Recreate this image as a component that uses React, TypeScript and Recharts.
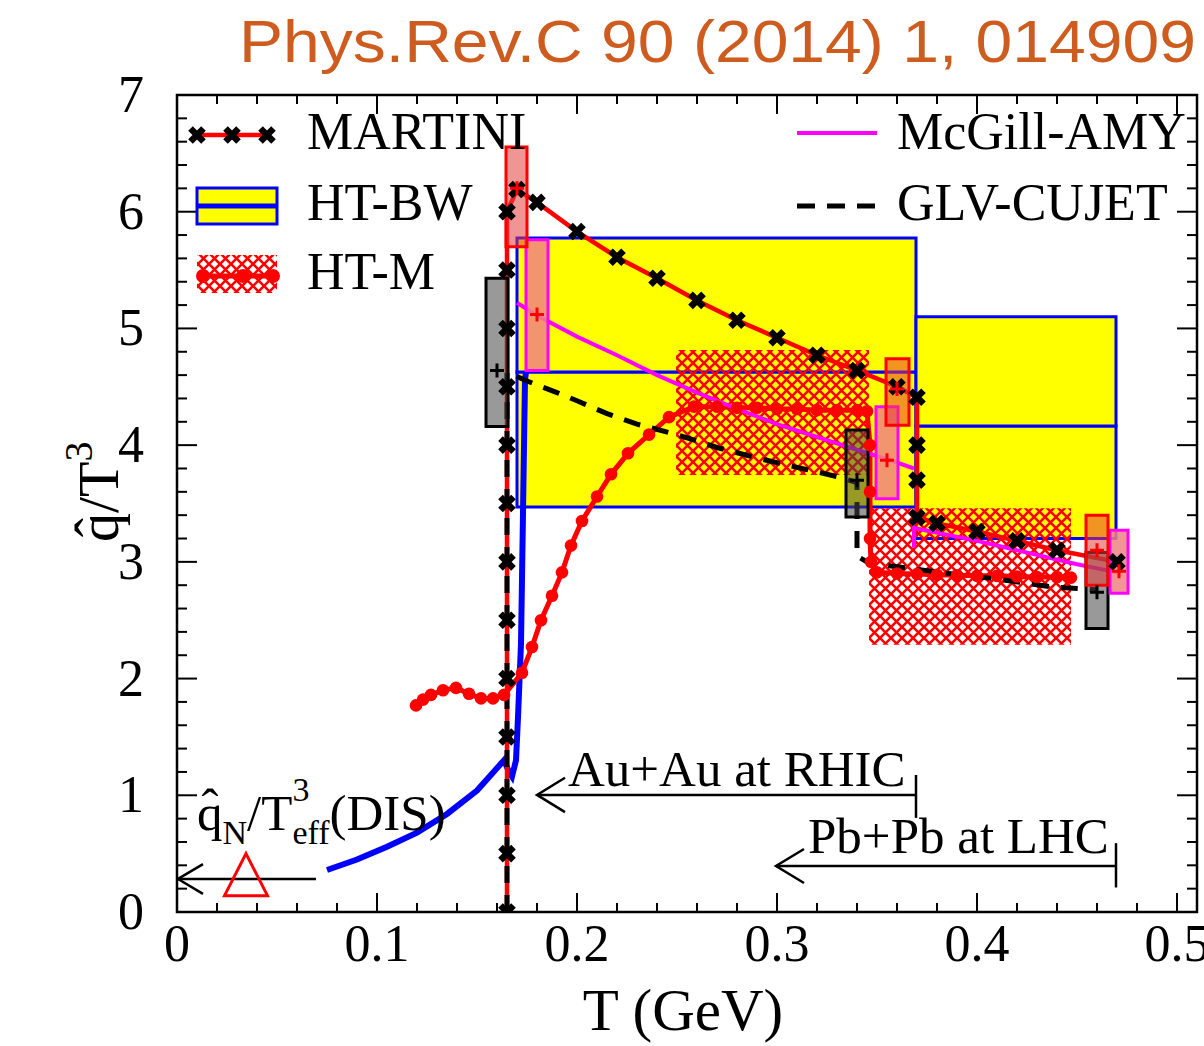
import React from 'react';
import { ComposedChart, Line, XAxis, YAxis, ReferenceArea } from 'recharts';

const SERIF = '"Liberation Serif","Times New Roman",Times,serif';
const SANS = '"Liberation Sans",Arial,Helvetica,sans-serif';

const W = 1204;
const H = 1046;
const PL = 177;
const PT = 95;
const PW = 1020;
const PH = 817;

// ---------- axes ----------
const xDomain = [0, 0.51];
const yDomain = [0, 7];
const xTicks = [0, 0.02, 0.04, 0.06, 0.08, 0.1, 0.12, 0.14, 0.16, 0.18, 0.2, 0.22, 0.24, 0.26, 0.28, 0.3, 0.32, 0.34, 0.36, 0.38, 0.4, 0.42, 0.44, 0.46, 0.48, 0.5];
const xMajor = [0, 0.1, 0.2, 0.3, 0.4, 0.5];
const xLabels = ['0', '0.1', '0.2', '0.3', '0.4', '0.5'];
const yTicks = [0, 0.2, 0.4, 0.6, 0.8, 1, 1.2, 1.4, 1.6, 1.8, 2, 2.2, 2.4, 2.6, 2.8, 3, 3.2, 3.4, 3.6, 3.8, 4, 4.2, 4.4, 4.6, 4.8, 5, 5.2, 5.4, 5.6, 5.8, 6, 6.2, 6.4, 6.6, 6.8, 7];
const yMajor = [0, 1, 2, 3, 4, 5, 6, 7];
const yLabels = ['0', '1', '2', '3', '4', '5', '6', '7'];

// ---------- series ----------
const martini = [
  { x: 0.165, y: 0 }, { x: 0.165, y: 0.5 }, { x: 0.165, y: 1.0 }, { x: 0.165, y: 1.5 },
  { x: 0.165, y: 2.0 }, { x: 0.165, y: 2.5 }, { x: 0.165, y: 3.0 }, { x: 0.165, y: 3.5 },
  { x: 0.165, y: 4.0 }, { x: 0.165, y: 4.5 }, { x: 0.165, y: 5.0 }, { x: 0.165, y: 5.5 },
  { x: 0.165, y: 6.0 }, { x: 0.17, y: 6.19 }, { x: 0.18, y: 6.08 }, { x: 0.2, y: 5.83 },
  { x: 0.22, y: 5.61 }, { x: 0.24, y: 5.43 }, { x: 0.26, y: 5.24 }, { x: 0.28, y: 5.07 },
  { x: 0.3, y: 4.92 }, { x: 0.32, y: 4.77 }, { x: 0.34, y: 4.64 }, { x: 0.36, y: 4.5 },
  { x: 0.37, y: 4.41 }, { x: 0.37, y: 4.0 }, { x: 0.37, y: 3.7 }, { x: 0.37, y: 3.38 },
  { x: 0.38, y: 3.33 }, { x: 0.4, y: 3.26 }, { x: 0.42, y: 3.18 }, { x: 0.44, y: 3.1 },
  { x: 0.47, y: 3.0 },
];

const glv = [
  { x: 0.165, y: 0 }, { x: 0.165, y: 4.63 }, { x: 0.1735, y: 4.56 }, { x: 0.19, y: 4.45 },
  { x: 0.2, y: 4.38 }, { x: 0.215, y: 4.27 }, { x: 0.23, y: 4.18 }, { x: 0.25, y: 4.09 },
  { x: 0.27, y: 3.98 }, { x: 0.29, y: 3.89 }, { x: 0.31, y: 3.81 }, { x: 0.33, y: 3.73 },
  { x: 0.34, y: 3.68 }, { x: 0.34, y: 3.05 }, { x: 0.345, y: 3.0 }, { x: 0.357, y: 2.965 },
  { x: 0.3835, y: 2.905 }, { x: 0.41, y: 2.853 }, { x: 0.4375, y: 2.785 }, { x: 0.46, y: 2.76 },
];

const amyRhic = [
  { x: 0.17, y: 5.22 }, { x: 0.18, y: 5.11 }, { x: 0.2, y: 4.93 }, { x: 0.22, y: 4.77 },
  { x: 0.24, y: 4.6 }, { x: 0.26, y: 4.45 }, { x: 0.28, y: 4.31 }, { x: 0.3, y: 4.18 },
  { x: 0.32, y: 4.07 }, { x: 0.34, y: 3.96 }, { x: 0.355, y: 3.88 }, { x: 0.3685, y: 3.8 },
];
const amyLhc = [
  { x: 0.3685, y: 3.12 }, { x: 0.3685, y: 3.29 }, { x: 0.4, y: 3.18 }, { x: 0.43, y: 3.06 },
  { x: 0.45, y: 2.98 }, { x: 0.47, y: 2.91 },
];

const htbwCurve = [
  { x: 0.075, y: 0.36 }, { x: 0.09, y: 0.45 }, { x: 0.105, y: 0.56 }, { x: 0.12, y: 0.68 },
  { x: 0.135, y: 0.84 }, { x: 0.15, y: 1.04 }, { x: 0.1635, y: 1.3 }, { x: 0.166, y: 1.2 },
  { x: 0.1675, y: 1.16 }, { x: 0.1695, y: 1.3 }, { x: 0.1705, y: 1.67 }, { x: 0.172, y: 2.3 },
  { x: 0.173, y: 3.42 }, { x: 0.174, y: 4.56 }, { x: 0.1745, y: 4.627 },
];

const htm = [
  { x: 0.1195, y: 1.77 }, { x: 0.123, y: 1.82 }, { x: 0.127, y: 1.86 }, { x: 0.133, y: 1.9 },
  { x: 0.1395, y: 1.92 }, { x: 0.146, y: 1.87 }, { x: 0.152, y: 1.83 }, { x: 0.158, y: 1.83 },
  { x: 0.1635, y: 1.86 }, { x: 0.1725, y: 2.05 }, { x: 0.1775, y: 2.27 }, { x: 0.182, y: 2.5 },
  { x: 0.1875, y: 2.71 }, { x: 0.1925, y: 2.91 }, { x: 0.197, y: 3.14 }, { x: 0.2025, y: 3.35 },
  { x: 0.21, y: 3.56 }, { x: 0.217, y: 3.75 }, { x: 0.2255, y: 3.93 }, { x: 0.236, y: 4.09 },
  { x: 0.246, y: 4.24 }, { x: 0.2585, y: 4.33 }, { x: 0.27, y: 4.33 }, { x: 0.28, y: 4.32 },
  { x: 0.29, y: 4.32 }, { x: 0.3, y: 4.31 }, { x: 0.31, y: 4.31 }, { x: 0.32, y: 4.3 },
  { x: 0.33, y: 4.3 }, { x: 0.34, y: 4.3 }, { x: 0.345, y: 4.29 }, { x: 0.3465, y: 4.0 },
  { x: 0.3465, y: 3.6 }, { x: 0.3465, y: 3.2 }, { x: 0.347, y: 3.0 }, { x: 0.35, y: 2.91 },
  { x: 0.36, y: 2.9 }, { x: 0.37, y: 2.895 }, { x: 0.38, y: 2.89 }, { x: 0.39, y: 2.885 },
  { x: 0.4, y: 2.88 }, { x: 0.41, y: 2.88 }, { x: 0.42, y: 2.875 }, { x: 0.43, y: 2.87 },
  { x: 0.44, y: 2.87 }, { x: 0.447, y: 2.865 },
];

// HT-BW bands (upper and lower halves around the central value)
const htbwBoxes = [
  { x1: 0.17, x2: 0.3695, y1: 3.47, y2: 4.627 },
  { x1: 0.17, x2: 0.3695, y1: 4.627, y2: 5.775 },
  { x1: 0.3695, x2: 0.4695, y1: 3.2, y2: 4.165 },
  { x1: 0.3695, x2: 0.4695, y1: 4.165, y2: 5.1 },
];
// HT-M bands
const htmBoxes = [
  { x1: 0.2495, x2: 0.346, y1: 3.745, y2: 4.816 },
  { x1: 0.346, x2: 0.447, y1: 2.29, y2: 3.46 },
];
// error boxes
const martiniErr = [
  { x1: 0.1645, x2: 0.175, y1: 5.7, y2: 6.555 },
  { x1: 0.3545, x2: 0.366, y1: 4.17, y2: 4.74 },
  { x1: 0.4545, x2: 0.4655, y1: 2.8, y2: 3.4 },
];
const amyErr = [
  { x1: 0.1745, x2: 0.1855, y1: 4.64, y2: 5.76 },
  { x1: 0.3495, x2: 0.3605, y1: 3.54, y2: 4.33 },
  { x1: 0.4665, x2: 0.4755, y1: 2.73, y2: 3.27 },
];
const glvErr = [
  { x1: 0.1545, x2: 0.1655, y1: 4.16, y2: 5.43 },
  { x1: 0.3345, x2: 0.3455, y1: 3.385, y2: 4.13 },
  { x1: 0.4545, x2: 0.4655, y1: 2.43, y2: 3.08 },
];
const martiniCenters = [{ x: 0.17, y: 6.2 }, { x: 0.36, y: 4.48 }, { x: 0.46, y: 3.1 }];
const amyCenters = [{ x: 0.18, y: 5.12 }, { x: 0.355, y: 3.87 }, { x: 0.471, y: 2.92 }];
const glvCenters = [{ x: 0.16, y: 4.64 }, { x: 0.34, y: 3.7 }, { x: 0.46, y: 2.74 }];

// DIS point
const disPoint = [{ x: 0.0345, y: 0.32 }];

// annotation arrows
const disArrow = [{ x: 0.0005, y: 0.283 }, { x: 0.0695, y: 0.283 }];
const disHead = [{ x: 0.013, y: 0.41 }, { x: 0.0005, y: 0.283 }, { x: 0.013, y: 0.155 }];
const rhicArrow = [{ x: 0.18, y: 1.003 }, { x: 0.3695, y: 1.003 }];
const rhicHead = [{ x: 0.194, y: 1.15 }, { x: 0.18, y: 1.003 }, { x: 0.194, y: 0.856 }];
const rhicBar = [{ x: 0.3695, y: 1.174 }, { x: 0.3695, y: 0.806 }];
const lhcArrow = [{ x: 0.2995, y: 0.394 }, { x: 0.4695, y: 0.394 }];
const lhcHead = [{ x: 0.3135, y: 0.54 }, { x: 0.2995, y: 0.394 }, { x: 0.3135, y: 0.248 }];
const lhcBar = [{ x: 0.4695, y: 0.59 }, { x: 0.4695, y: 0.21 }];

// ---------- marker shapes ----------
const xMark = (color: string, s: number, w: number) => (p: any) => {
  const { cx, cy, index } = p;
  if (cx == null || cy == null) return <g key={`n${index}`} />;
  return (
    <path
      key={`x${index}`}
      d={`M${cx - s},${cy - s}L${cx + s},${cy + s}M${cx + s},${cy - s}L${cx - s},${cy + s}`}
      stroke={color}
      strokeWidth={w}
      fill="none"
    />
  );
};
const plusMark = (color: string, s: number, w: number) => (p: any) => {
  const { cx, cy, index } = p;
  if (cx == null || cy == null) return <g key={`n${index}`} />;
  return (
    <path
      key={`p${index}`}
      d={`M${cx - s},${cy}H${cx + s}M${cx},${cy - s}V${cy + s}`}
      stroke={color}
      strokeWidth={w}
      fill="none"
    />
  );
};
const circleMark = (color: string, r: number) => (p: any) => {
  const { cx, cy, index } = p;
  if (cx == null || cy == null) return <g key={`n${index}`} />;
  return <circle key={`c${index}`} cx={cx} cy={cy} r={r} fill={color} stroke="none" />;
};
const triMark = (p: any) => {
  const { cx, cy, index } = p;
  if (cx == null || cy == null) return <g key={`n${index}`} />;
  return (
    <path
      key={`t${index}`}
      d={`M${cx},${cy - 21}L${cx + 21.5},${cy + 21}L${cx - 21.5},${cy + 21}Z`}
      fill="none"
      stroke="#ff0000"
      strokeWidth={3}
    />
  );
};

// ---------- ticks ----------
const XTick = (props: any) => {
  const { x, y, payload } = props;
  const v = payload.value;
  const idx = xMajor.findIndex((m) => Math.abs(m - v) < 1e-6);
  const len = idx >= 0 ? 19 : 9;
  return (
    <g>
      <line x1={x} y1={y} x2={x} y2={y - len} stroke="#000" strokeWidth={2} />
      <line x1={x} y1={y - PH} x2={x} y2={y - PH + len} stroke="#000" strokeWidth={2} />
      {idx >= 0 && (
        <text x={x} y={y + 49} textAnchor="middle" fontFamily={SERIF} fontSize={52} fill="#000">
          {xLabels[idx]}
        </text>
      )}
    </g>
  );
};
const YTick = (props: any) => {
  const { x, y, payload } = props;
  const v = payload.value;
  const idx = yMajor.findIndex((m) => Math.abs(m - v) < 1e-6);
  const len = idx >= 0 ? 20 : 10;
  return (
    <g>
      <line x1={x} y1={y} x2={x + len} y2={y} stroke="#000" strokeWidth={2} />
      <line x1={x + PW} y1={y} x2={x + PW - len} y2={y} stroke="#000" strokeWidth={2} />
      {idx >= 0 && (
        <text x={x - 33} y={y + 17} textAnchor="end" fontFamily={SERIF} fontSize={52} fill="#000">
          {yLabels[idx]}
        </text>
      )}
    </g>
  );
};

const noDot = false as const;

export default function App() {
  return (
    <div style={{ position: 'absolute', left: 0, top: 0, width: W, height: H, background: '#fff' }}>
      <svg width={0} height={0} style={{ position: 'absolute' }}>
        <defs>
          <pattern id="hatchRed" patternUnits="userSpaceOnUse" width={11} height={11}>
            <path d="M0,0L11,11M11,0L0,11" stroke="#ff0000" strokeWidth={2.6} />
          </pattern>
        </defs>
      </svg>
      <ComposedChart width={W} height={H} margin={{ top: PT, right: W - PL - PW, left: 0, bottom: H - PT - PH - 80 }}>
        <XAxis
          dataKey="x"
          type="number"
          domain={xDomain}
          ticks={xTicks}
          interval={0}
          tick={<XTick />}
          tickLine={false}
          axisLine={false}
          tickSize={0}
          tickMargin={0}
          height={80}
          allowDataOverflow
        />
        <YAxis
          dataKey="y"
          type="number"
          domain={yDomain}
          ticks={yTicks}
          interval={0}
          tick={<YTick />}
          tickLine={false}
          axisLine={false}
          tickSize={0}
          tickMargin={0}
          width={PL}
          allowDataOverflow
        />
        {htbwBoxes.map((b, i) => (
          <ReferenceArea key={`bw${i}`} {...b} fill="#ffff00" fillOpacity={1} stroke="#0000ff" strokeWidth={3} ifOverflow="visible" zIndex={10} />
        ))}
        {htmBoxes.map((b, i) => (
          <ReferenceArea key={`hm${i}`} {...b} fill="url(#hatchRed)" fillOpacity={1} stroke="none" ifOverflow="visible" zIndex={20} />
        ))}
        <Line data={htbwCurve} dataKey="y" type="linear" stroke="#0000ff" strokeWidth={6} dot={noDot} activeDot={false} isAnimationActive={false} zIndex={400} />
        <Line data={htm} dataKey="y" type="linear" stroke="#ff0000" strokeWidth={5} dot={circleMark('#ff0000', 6.3)} activeDot={false} isAnimationActive={false} zIndex={401} />
        <Line data={amyRhic} dataKey="y" type="linear" stroke="#ff00ff" strokeWidth={4} dot={noDot} activeDot={false} isAnimationActive={false} zIndex={402} />
        <Line data={amyLhc} dataKey="y" type="linear" stroke="#ff00ff" strokeWidth={4} dot={noDot} activeDot={false} isAnimationActive={false} zIndex={402} />
        <Line data={martini} dataKey="y" type="linear" stroke="#ff0000" strokeWidth={4.5} dot={xMark('#000', 6.5, 6.5)} activeDot={false} isAnimationActive={false} zIndex={403} />
        <Line data={glv} dataKey="y" type="linear" stroke="#000" strokeWidth={5} strokeDasharray="17 12" dot={noDot} activeDot={false} isAnimationActive={false} zIndex={404} />
        {glvErr.map((b, i) => (
          <ReferenceArea key={`ge${i}`} {...b} fill="rgb(70,70,70)" fillOpacity={0.55} stroke="#000" strokeWidth={3} ifOverflow="visible" zIndex={500} />
        ))}
        {amyErr.map((b, i) => (
          <ReferenceArea key={`ae${i}`} {...b} fill="rgb(240,130,130)" fillOpacity={0.85} stroke="#ff00ff" strokeWidth={3} ifOverflow="visible" zIndex={501} />
        ))}
        {martiniErr.map((b, i) => (
          <ReferenceArea key={`me${i}`} {...b} fill="rgb(230,60,60)" fillOpacity={0.55} stroke="#ff0000" strokeWidth={3} ifOverflow="visible" zIndex={502} />
        ))}
        <Line data={glvCenters} dataKey="y" stroke="none" dot={plusMark('#000', 7, 3)} activeDot={false} isAnimationActive={false} zIndex={510} />
        <Line data={amyCenters} dataKey="y" stroke="none" dot={plusMark('#ff0000', 7, 3)} activeDot={false} isAnimationActive={false} zIndex={510} />
        <Line data={martiniCenters} dataKey="y" stroke="none" dot={plusMark('#ff0000', 7, 3)} activeDot={false} isAnimationActive={false} zIndex={510} />
        <Line data={disPoint} dataKey="y" stroke="none" dot={triMark} activeDot={false} isAnimationActive={false} zIndex={510} />
        {[disArrow, disHead, rhicArrow, rhicHead, rhicBar, lhcArrow, lhcHead, lhcBar].map((d, i) => (
          <Line key={`ar${i}`} data={d} dataKey="y" type="linear" stroke="#000" strokeWidth={2.5} dot={noDot} activeDot={false} isAnimationActive={false} zIndex={520} />
        ))}
      </ComposedChart>
      <svg width={W} height={H} style={{ position: 'absolute', left: 0, top: 0, pointerEvents: 'none' }}>
        {/* title */}
        <text x={239} y={62} fontFamily={SANS} fontSize={59} fill="#cf5c1f" textLength={957} lengthAdjust="spacingAndGlyphs">
          Phys.Rev.C 90 (2014) 1, 014909
        </text>
        {/* frame */}
        <rect x={PL} y={PT} width={PW} height={PH} fill="none" stroke="#000" strokeWidth={2.5} />
        {/* legend */}
        <line x1={194} y1={135} x2={270} y2={135} stroke="#ff0000" strokeWidth={4.5} />
        {[197, 232, 267].map((cx) => (
          <path key={cx} d={`M${cx - 6.5},128.5L${cx + 6.5},141.5M${cx + 6.5},128.5L${cx - 6.5},141.5`} stroke="#000" strokeWidth={6.5} />
        ))}
        <text x={307} y={149} fontFamily={SERIF} fontSize={52} fill="#000">MARTINI</text>
        <rect x={197} y={188} width={80} height={36} fill="#ffff00" stroke="#0000ff" strokeWidth={3} />
        <line x1={197} y1={206} x2={277} y2={206} stroke="#0000ff" strokeWidth={5} />
        <text x={307} y={220} fontFamily={SERIF} fontSize={52} fill="#000">HT-BW</text>
        <rect x={197} y={255} width={80} height={38} fill="url(#hatchRed)" stroke="none" />
        <line x1={197} y1={276} x2={277} y2={276} stroke="#ff0000" strokeWidth={5} />
        {[203, 243, 273].map((cx) => (
          <circle key={cx} cx={cx} cy={276} r={7} fill="#ff0000" />
        ))}
        <text x={307} y={289} fontFamily={SERIF} fontSize={52} fill="#000">HT-M</text>
        <line x1={797} y1={133} x2={877} y2={133} stroke="#ff00ff" strokeWidth={4} />
        <text x={897} y={149} fontFamily={SERIF} fontSize={52} fill="#000">McGill-AMY</text>
        <line x1={797} y1={206} x2={877} y2={206} stroke="#000" strokeWidth={5} strokeDasharray="18 12" />
        <text x={897} y={220} fontFamily={SERIF} fontSize={52} fill="#000">GLV-CUJET</text>
        {/* annotations */}
        <text x={568} y={786} fontFamily={SERIF} fontSize={51} fill="#000">Au+Au at RHIC</text>
        <text x={808} y={853} fontFamily={SERIF} fontSize={51} fill="#000">Pb+Pb at LHC</text>
        <text x={197} y={830} fontFamily={SERIF} fontSize={51} fill="#000">
          q
          <tspan fontSize={34} dy={14}>N</tspan>
          <tspan fontSize={51} dy={-14}>/T</tspan>
          <tspan fontSize={34} dy={-29}>3</tspan>
          <tspan fontSize={34} dx={-17} dy={43}>eff</tspan>
          <tspan fontSize={51} dy={-14}>(DIS)</tspan>
        </text>
        <text x={210} y={824} textAnchor="middle" fontFamily={SERIF} fontSize={51} fill="#000">ˆ</text>
        {/* axis titles */}
        <text x={683} y={1030} textAnchor="middle" fontFamily={SERIF} fontSize={59} fill="#000">T (GeV)</text>
        <g transform="translate(118,492) rotate(-90)">
          <text x={-50} y={0} fontFamily={SERIF} fontSize={58} fill="#000">
            q/T
            <tspan fontSize={40} dy={-26}>3</tspan>
          </text>
          <text x={-35.5} y={-4} textAnchor="middle" fontFamily={SERIF} fontSize={58} fill="#000">ˆ</text>
        </g>
      </svg>
    </div>
  );
}
